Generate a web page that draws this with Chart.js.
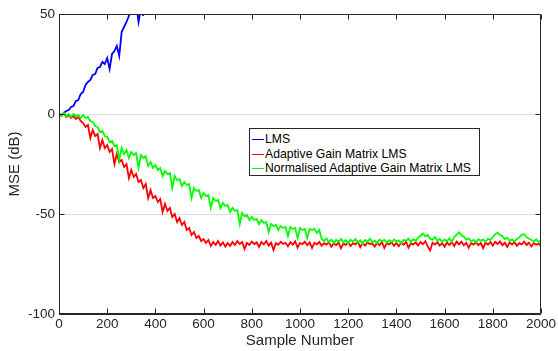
<!DOCTYPE html>
<html>
<head>
<meta charset="utf-8">
<script src="https://cdn.jsdelivr.net/npm/chart.js@4/dist/chart.umd.min.js"></script>
<style>
  html, body { margin: 0; padding: 0; background: #fff; }
  #wrap { position: relative; width: 558px; height: 351px; }
  #legend {
    position: absolute; left: 249px; top: 128px; width: 231px; height: 48px;
    border: 1px solid #262626; background: #fff; box-sizing: border-box;
    font-family: "Liberation Sans", Arial, Helvetica, sans-serif; font-size: 12.2px; color: #000;
  }
  .row { position: absolute; left: 2px; height: 14px; line-height: 14px; white-space: nowrap; }
  .row span.ln { display: inline-block; width: 12px; height: 1px; vertical-align: middle; margin-right: 1px; }
</style>
</head>
<body>
<div id="wrap">
  <canvas id="c" width="558" height="351"></canvas>
  <div id="legend"></div>
</div>
<script>
// ---- data (MSE in dB, one value every SAMPLE_STEP samples) ----
const SAMPLE_STEP = 10;
const xTicks = [0, 200, 400, 600, 800, 1000, 1200, 1400, 1600, 1800, 2000];
const yTicks = [50, 0, -50, -100];
const seriesNames = ["LMS", "Adaptive Gain Matrix LMS", "Normalised Adaptive Gain Matrix LMS"];
const seriesColors = ["#0000ff", "#ff0000", "#00ff00"];

const lms = [
  0, -0.5, 0.5, 1.5, 2, 3.5, 4, 6.5, 7, 10,
  11, 14.5, 16, 17, 19.5, 20, 23, 23.5, 26, 25,
  28, 22.5, 30, 31.5, 34, 29, 41, 43.5, 46, 49,
  52, 51, 55, 46, 53, 49
];

const agmLms = [
  0, -1, 0.5, -1.5, -0.5, -2, -1, -2.5, -1.5, -3.5,
  -4.5, -6.5, -5.5, -12, -8, -11, -10, -17, -13, -17,
  -15.5, -19, -17.5, -25, -20, -24, -23, -26.5, -25, -32,
  -28, -31.5, -30, -34, -33, -37, -35, -42, -38, -42,
  -41, -44, -42.5, -49, -45, -48.5, -47, -51.5, -50, -54,
  -52, -55.5, -54, -58, -57, -60.5, -59, -62, -61, -63.5,
  -62.5, -64.5, -63, -66, -64, -65.5, -63.5, -65.8, -64.2, -66.3,
  -64.5, -66, -64, -65.5, -63.5, -65, -64, -67.5, -64.5, -65.5,
  -63.8, -65, -64.2, -66.5, -64, -65.2, -63.5, -65.8, -64.3, -68,
  -64.6, -65.4, -63.9, -65, -64.4, -66.2, -64.1, -65.3, -63.7, -66.8,
  -64.5, -65.1, -63.8, -65.6, -64.2, -67, -64.4, -65.2, -64, -65.9,
  -64.6, -65.3, -64.1, -66.4, -64.7, -65.5, -64.2, -67.2, -64.8, -65.4,
  -64.3, -66, -64.6, -65.2, -63.9, -66.6, -64.5, -65.8, -64.2, -65.1,
  -64.7, -66.3, -64.4, -65.6, -64, -67, -64.6, -65.2, -64.1, -65.9,
  -64.5, -66.1, -64.3, -65.4, -63.9, -66.8, -64.6, -65.3, -64.2, -65.7,
  -64, -65.1, -63.6, -66.2, -68.2, -64.4, -65.3, -64.1, -65.8, -64.5,
  -66.4, -64.2, -65.5, -64, -66, -63.8, -65.2, -63.9, -65.7, -64.4,
  -66.9, -64.6, -65.3, -64.1, -65.6, -64.5, -67.1, -64.3, -65.4, -64,
  -65.8, -63.9, -65, -63.7, -65.6, -64.4, -66.5, -64.2, -65.3, -64,
  -65.9, -64.6, -65.2, -63.8, -65.5, -64.3, -66.2, -64.5, -65.4, -64.8,
  -66
];

const nagmLms = [
  0, -1, 0.5, -1, 0, -1.5, 0, -1, -0.5, -2,
  -0.5, -2, -1.5, -3.5, -4, -6, -6.5, -9, -8.5, -11,
  -11.5, -14, -13.5, -16, -15.5, -23, -17, -20, -18, -22,
  -19, -20.5, -19.5, -27, -20.5, -22, -21, -26, -24, -27,
  -25.5, -28, -27, -31, -28.5, -30, -29.5, -37, -31, -33,
  -32.5, -36, -34, -35.5, -35, -42, -37, -38.5, -38, -42,
  -39.5, -41, -40.5, -47, -42, -43.5, -43, -47, -44.5, -46,
  -45.5, -49, -47, -48.5, -48, -55, -49.5, -51, -50.5, -53,
  -51.5, -53, -52.5, -55, -53, -54.5, -54, -59, -55, -56,
  -55.5, -58, -56, -57, -56.5, -61, -56.5, -57.5, -57, -62,
  -57, -58, -57.5, -62, -57.5, -58, -57.5, -59.5, -58,
  -62.5, -63.5, -62.2, -64, -62.8, -64.5, -63, -63.8, -62.5, -64.2,
  -63.1, -64.8, -62.9, -63.7, -62.6, -64.3, -63.2, -64.9, -63, -63.9,
  -62.4, -64.1, -63.3, -64.6, -62.8, -63.6, -62.9, -64.4, -63.1, -64,
  -62.7, -63.8, -63.2, -64.7, -62.9, -63.5, -62.3, -63.9, -62.6, -63.4,
  -61.8, -61, -59.8, -61.2, -60.5, -62.4, -62.8, -61.5, -63.4, -62.5,
  -64, -62.7, -63.5, -62.2, -63.9, -61.6, -60.3, -59.2, -60.6, -61.3,
  -62.8, -62.2, -63.7, -62.9, -64.1, -62.6, -63.4, -62.8, -63.9, -62.4,
  -62.9, -61.5, -60.2, -59.3, -60.6, -61.1, -62.5, -61.8, -63.5, -62.7,
  -63.8, -62.5, -61.7, -60.4, -60.1, -61.6, -62.4, -62.9, -63.8, -62.6,
  -63.9, -63.3
];

// ---- chart ----
const toPoints = arr => arr.map((v, i) => ({ x: i * SAMPLE_STEP, y: v }));
const allSeries = [lms, agmLms, nagmLms];
const drawOrder = [2, 1, 0]; // green drawn on top, like the original plot order

const TEXT = "#262626";
const FONT = '"Liberation Sans", Arial, Helvetica, sans-serif';

const frame = {
  id: "frame",
  afterDraw(chart) {
    const { ctx, chartArea: a, scales } = chart;
    ctx.save();
    ctx.strokeStyle = TEXT;
    ctx.lineWidth = 1;
    ctx.beginPath();
    const L = Math.round(a.left) + 0.5, R = Math.round(a.right) - 0.5;
    const T = Math.round(a.top) + 0.5, B = Math.round(a.bottom) - 0.5;
    ctx.rect(L, T, R - L, B - T);
    const tl = 5;
    xTicks.forEach(v => {
      const px = Math.round(scales.x.getPixelForValue(v)) + 0.5;
      ctx.moveTo(px, B); ctx.lineTo(px, B - tl);
      ctx.moveTo(px, T); ctx.lineTo(px, T + tl);
    });
    yTicks.forEach(v => {
      const py = Math.round(scales.y.getPixelForValue(v)) + 0.5;
      ctx.moveTo(L, py); ctx.lineTo(L + tl, py);
      ctx.moveTo(R, py); ctx.lineTo(R - tl, py);
    });
    ctx.stroke();
    ctx.restore();
  }
};

new Chart(document.getElementById("c"), {
  type: "line",
  data: {
    datasets: allSeries.map((s, k) => ({
      label: seriesNames[k],
      data: toPoints(s),
      borderColor: seriesColors[k],
      backgroundColor: seriesColors[k],
      borderWidth: 1.8,
      pointRadius: 0,
      tension: 0,
      fill: false,
      order: drawOrder[k]
    }))
  },
  options: {
    responsive: false,
    animation: false,
    devicePixelRatio: 1,
    layout: { padding: { left: 0, right: 15, top: 14, bottom: 0 } },
    plugins: { legend: { display: false }, tooltip: { enabled: false } },
    scales: {
      x: {
        type: "linear",
        min: 0, max: 2000,
        afterFit: s => { s.height = 37; },
        afterBuildTicks: s => { s.ticks = xTicks.map(v => ({ value: v })); },
        grid: { display: false, drawTicks: false },
        border: { display: true, color: TEXT },
        ticks: { color: TEXT, font: { family: FONT, size: 13.5 }, padding: 2, maxRotation: 0, autoSkip: false, callback: v => String(v) },
        title: { display: true, text: "Sample Number", color: TEXT, font: { family: FONT, size: 15 }, padding: { top: 0, bottom: 1 } }
      },
      y: {
        type: "linear",
        min: -100, max: 50,
        afterFit: s => { s.width = 59; },
        afterBuildTicks: s => { s.ticks = yTicks.map(v => ({ value: v })); },
        grid: { color: "#dfdfdf", drawTicks: false },
        border: { display: true, color: TEXT },
        ticks: { color: TEXT, font: { family: FONT, size: 13.5 }, padding: 4, callback: v => String(v) },
        title: { display: true, text: "MSE (dB)", color: TEXT, font: { family: FONT, size: 15 }, padding: { top: 6, bottom: 0 } }
      }
    }
  },
  plugins: [frame]
});

// legend (inside the plot, like the original)
const lg = document.getElementById("legend");
const rowTops = [3, 18, 32];
seriesNames.forEach((n, k) => {
  const r = document.createElement("div");
  r.className = "row";
  r.style.top = rowTops[k] + "px";
  const ln = document.createElement("span");
  ln.className = "ln";
  ln.style.background = seriesColors[k];
  r.appendChild(ln);
  r.appendChild(document.createTextNode(n));
  lg.appendChild(r);
});
</script>
</body>
</html>
